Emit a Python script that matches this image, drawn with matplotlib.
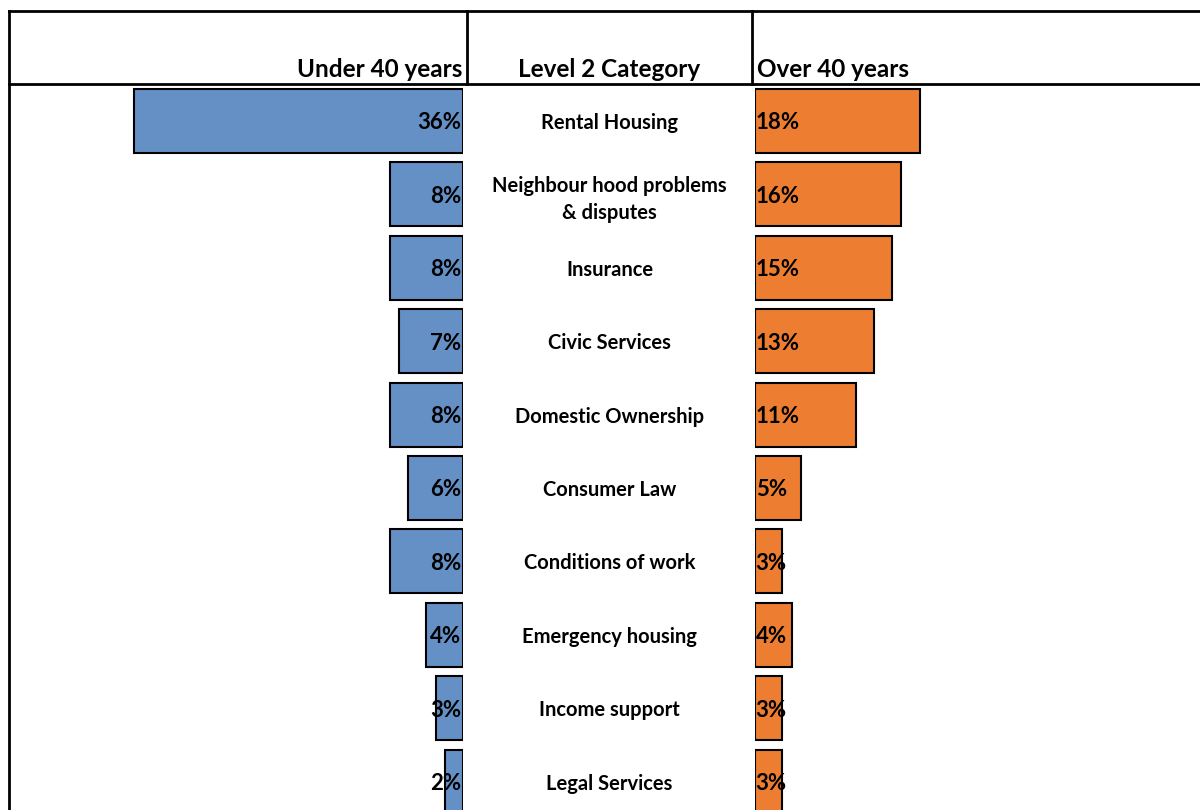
import matplotlib.pyplot as plt
from matplotlib.lines import Line2D

categories = ['Rental Housing', 'Neighbour hood problems\n& disputes', 'Insurance',
              'Civic Services', 'Domestic Ownership', 'Consumer Law',
              'Conditions of work', 'Emergency housing', 'Income support',
              'Legal Services']
under_40 = [36, 8, 8, 7, 8, 6, 8, 4, 3, 2]
over_40 = [18, 16, 15, 13, 11, 5, 3, 4, 3, 3]
headers = ['Under 40 years', 'Level 2 Category', 'Over 40 years']

W, H = 1200, 810
plt.rcParams['font.family'] = ['Lato', 'DejaVu Sans']
fig = plt.figure(figsize=(W / 100, H / 100), dpi=100)

BLUE = '#6590c6'
ORANGE = '#ed7d31'

def px_box(x0, x1, y0, y1):
    # pixel box (y measured from top) -> figure fraction rect
    return [x0 / W, 1 - y1 / H, (x1 - x0) / W, (y1 - y0) / H]

# rows: first centre at 121 px, pitch 73.4 px, body from 84 px to bottom
pitch, first = 73.4, 121.0
ylim = ((H - first) / pitch, (84 - first) / pitch)
per_pct = 9.15  # pixels per percentage point

ax_l = fig.add_axes(px_box(9, 463, 84, H))
ax_m = fig.add_axes(px_box(467, 752, 84, H))
ax_r = fig.add_axes(px_box(755, W, 84, H))
for ax in (ax_l, ax_m, ax_r):
    ax.set_ylim(*ylim)
    ax.axis('off')
ax_l.set_xlim(454 / per_pct, 0)
ax_r.set_xlim(0, 445 / per_pct)
ax_m.set_xlim(0, 1)

rows = list(range(len(categories)))
ax_l.barh(rows, under_40, height=0.87, color=BLUE, edgecolor='black', linewidth=1.5)
ax_r.barh(rows, over_40, height=0.87, color=ORANGE, edgecolor='black', linewidth=1.5)

for i, (u, o, c) in enumerate(zip(under_40, over_40, categories)):
    ax_l.annotate(f'{u}%', (0, i), xytext=(-1.5, 0), textcoords='offset points',
                  ha='right', va='center_baseline', fontsize=16, fontweight='bold')
    ax_r.annotate(f'{o}%', (0, i), xytext=(0.5, 0), textcoords='offset points',
                  ha='left', va='center_baseline', fontsize=16, fontweight='bold')
    ax_m.text(0.5, i, c, ha='center', va='center_baseline', fontsize=14.5,
              fontweight='bold', linespacing=1.4)

# header row
hy = 1 - 77 / H
fig.text(462 / W, hy, headers[0], ha='right', va='baseline', fontsize=17.5, fontweight='bold')
fig.text(609 / W, hy, headers[1], ha='center', va='baseline', fontsize=17.5, fontweight='bold')
fig.text(757 / W, hy, headers[2], ha='left', va='baseline', fontsize=17.5, fontweight='bold')

# table grid lines
def grid_line(x0, y0, x1, y1):
    fig.add_artist(Line2D([x0 / W, x1 / W], [1 - y0 / H, 1 - y1 / H],
                          transform=fig.transFigure, color='black', linewidth=2))

grid_line(9, 11, W, 11)
grid_line(9, 83.5, W, 83.5)
grid_line(9, 11, 9, H)
grid_line(467, 11, 467, 83.5)
grid_line(752, 11, 752, 83.5)

fig.savefig('out.png', dpi=100)
